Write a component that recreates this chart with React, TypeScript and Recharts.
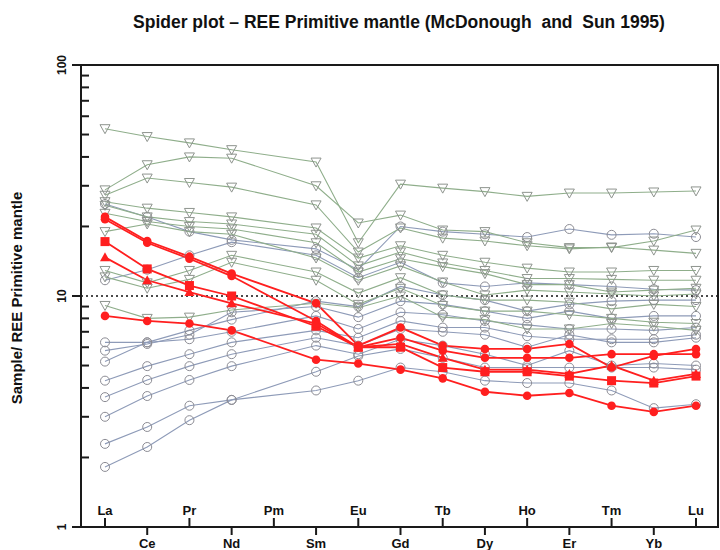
import React from 'react';
import { LineChart, Line, XAxis, YAxis, ReferenceLine } from 'recharts';

const elements = ['La', 'Ce', 'Pr', 'Nd', 'Pm', 'Sm', 'Eu', 'Gd', 'Tb', 'Dy', 'Ho', 'Er', 'Tm', 'Yb', 'Lu'];
const yTicks = [1, 2, 3, 4, 5, 6, 7, 8, 9, 10, 20, 30, 40, 50, 60, 70, 80, 90, 100];
const yMajor = [1, 10, 100];

// green down-triangle samples
const G1 = [53, 49, 46, 43, null, 38, 17, 30.5, 29.3, 28.3, 27, 27.9, 27.9, 28.2, 28.5];
const G2 = [28.8, 37, 40, 39.5, null, 30, 20.7, 22.4, 19.3, 19, 17, 16.2, 16.2, 17.3, 19.3];
const G3 = [27.3, 32.4, 31, 29.6, null, 24.8, 15.5, 19.7, 17.8, 17.3, 16.5, 16, 16.3, 15.8, 15.3];
const G4 = [25.6, 24, 23, 22, null, 19.7, 14.6, 16.5, 15, 14, 13.2, 12.7, 12.7, 12.9, 12.9];
const G5 = [24.7, 22, 21, 20.5, null, 18.5, 13.5, 15.5, 13.9, 12.9, 11.9, 11.9, 11.8, 11.7, 11.7];
const G6 = [22.8, 21, 20, 19.5, null, 17, 12.7, 14.5, 13.4, 12.5, 11.2, 11.2, 10.4, 10.6, 10.8];
const G7 = [19, 20.5, 19, 18.5, null, 14.6, 11.7, 13.5, 11.5, 10.1, 10.6, 10.4, 10.2, 10, 10.2];
const G8 = [12.9, 11.4, 12.9, 15, null, 12.7, 10.3, 12, 10.1, 9.6, 9.6, 9.4, 8.8, 9.2, 9.0];
const G9 = [12.1, 10.8, 11.8, 14, null, 11.7, 9.2, 10.8, 9.1, 8.6, 8.6, 8.3, 8.0, 7.7, 7.6];
const G10 = [9.1, 8.0, 8.1, 8.7, null, 9.3, 8.9, 10, 8.1, 7.9, 7.2, 7.2, 7.6, 7.4, 7.1];

// grey open-circle samples
const C1 = [25, 22, 19, 17.5, null, 16, 13, 20, 19, 18.5, 18, 19.5, 18.4, 18.6, 18];
const C2 = [11.7, 13, 15, 17.1, null, 15, 12, 14, 11.4, 11, 11.4, 11.2, 11, 10.7, 10.6];
const C3 = [6.3, 6.3, 7.1, 7.9, null, 9.5, 9.0, 11, 10.1, 9.6, 8.6, 9.2, 9.5, 9.6, 9.6];
const C4 = [5.8, 6.2, 6.8, 8.5, null, 9.0, 8.1, 9.5, 9.2, 8.6, 8.0, 8.6, 8.0, 8.2, 8.2];
const C5 = [5.2, 6.3, 6.5, 7.0, null, 8.2, 7.2, 8.5, 8.3, 7.8, 7.5, 7.2, 7.2, 7.1, 7.3];
const C6 = [4.3, 4.97, 5.6, 6.3, null, 7.1, 6.6, 7.8, 7.3, 7.3, 6.7, 6.5, 6.5, 6.5, 6.8];
const C7 = [3.65, 4.33, 4.97, 5.6, null, 6.6, 6.1, 7.2, 7.0, 6.8, 6.0, 6.8, 6.3, 6.3, 6.6];
const C8 = [3.0, 3.69, 4.33, 4.97, null, 6.1, 5.6, 6.5, 6.1, 5.6, 5.0, 5.8, 5.0, 5.1, 5.0];
const C9 = [2.29, 2.71, 3.35, 3.55, null, 4.7, 5.5, 5.9, 5.4, 4.9, 4.9, 4.9, 4.9, 4.9, 4.8];
const C10 = [1.82, 2.22, 2.9, 3.55, null, 3.9, 4.3, 4.9, 4.7, 4.3, 4.2, 4.2, 3.9, 3.27, 3.4];

// red samples
const R1 = [22, 17.3, 14.8, 12.5, null, 9.3, 6.1, 7.3, 6.1, 5.9, 5.9, 6.2, 4.9, 5.5, 5.9];
const R2 = [21.5, 17.0, 14.5, 12.2, null, 7.8, 6.0, 6.6, 5.8, 5.4, 5.4, 5.4, 5.6, 5.6, 5.6];
const R3 = [17.2, 13.1, 11.1, 10.0, null, 7.4, 6.0, 6.0, 4.9, 4.7, 4.7, 4.5, 4.3, 4.2, 4.5];
const R4 = [14.7, 11.7, 10.4, 9.3, null, 7.6, 6.0, 6.2, 5.4, 4.8, 4.8, 4.6, 5.0, 4.3, 4.6];
const R5 = [8.2, 7.8, 7.6, 7.1, null, 5.3, 5.1, 4.8, 4.4, 3.85, 3.7, 3.8, 3.35, 3.15, 3.35];

const circleSeries = [
  { key: 'C1', values: C1 }, { key: 'C2', values: C2 }, { key: 'C3', values: C3 },
  { key: 'C4', values: C4 }, { key: 'C5', values: C5 }, { key: 'C6', values: C6 },
  { key: 'C7', values: C7 }, { key: 'C8', values: C8 }, { key: 'C9', values: C9 },
  { key: 'C10', values: C10 },
];
const greenSeries = [
  { key: 'G1', values: G1 }, { key: 'G2', values: G2 }, { key: 'G3', values: G3 },
  { key: 'G4', values: G4 }, { key: 'G5', values: G5 }, { key: 'G6', values: G6 },
  { key: 'G7', values: G7 }, { key: 'G8', values: G8 }, { key: 'G9', values: G9 },
  { key: 'G10', values: G10 },
];
const redSeries = [
  { key: 'R1', values: R1, shape: 'circle' },
  { key: 'R2', values: R2, shape: 'circle' },
  { key: 'R3', values: R3, shape: 'square' },
  { key: 'R4', values: R4, shape: 'triangle' },
  { key: 'R5', values: R5, shape: 'circle' },
];

const allSeries = [...circleSeries, ...greenSeries, ...redSeries];
const data = elements.map((el, i) => {
  const row: any = { el };
  allSeries.forEach((s) => {
    row[s.key] = s.values[i];
  });
  return row;
});

const AXIS = '#1a1a1a';
const GREEN_LINE = '#8fae8b';
const TRI_STROKE = '#8e948e';
const BLUE_LINE = '#8e9bb8';
const CIRC_STROKE = '#8c8c94';
const RED = '#ff1f1f';
const FONT = '"Liberation Sans", Arial, sans-serif';

const valid = (p: any) => p && p.cx != null && p.cy != null && p.value != null && !isNaN(p.cy);

const triDownDot = (p: any) => {
  const k = `t-${p.dataKey}-${p.index}`;
  if (!valid(p)) return <g key={k} />;
  const { cx, cy } = p;
  return (
    <polygon key={k} points={`${cx - 5},${cy - 4} ${cx + 5},${cy - 4} ${cx},${cy + 5}`}
      fill="none" stroke={TRI_STROKE} strokeWidth={1} />
  );
};
const circleDot = (p: any) => {
  const k = `c-${p.dataKey}-${p.index}`;
  if (!valid(p)) return <g key={k} />;
  return <circle key={k} cx={p.cx} cy={p.cy} r={4.5} fill="none" stroke={CIRC_STROKE} strokeWidth={1} />;
};
const redDot = (shape: string) => (p: any) => {
  const k = `r-${p.dataKey}-${p.index}`;
  if (!valid(p)) return <g key={k} />;
  const { cx, cy } = p;
  if (shape === 'square') return <rect key={k} x={cx - 4.5} y={cy - 4.5} width={9} height={9} fill={RED} />;
  if (shape === 'triangle')
    return <polygon key={k} points={`${cx - 5},${cy + 4} ${cx + 5},${cy + 4} ${cx},${cy - 5}`} fill={RED} />;
  return <circle key={k} cx={cx} cy={cy} r={4.3} fill={RED} />;
};

const XTick = (props: any) => {
  const { x, y, payload, index } = props;
  const up = index % 2 === 0;
  return (
    <g>
      <line x1={x} x2={x} y1={y} y2={up ? y - 9 : y + 8} stroke={AXIS} strokeWidth={2} />
      <text x={x} y={up ? y - 12 : y + 21} textAnchor="middle" fontFamily={FONT} fontWeight="bold"
        fontSize={13} fill="#111">
        {payload.value}
      </text>
    </g>
  );
};

const YTick = (props: any) => {
  const { x, y, payload } = props;
  const v = payload.value;
  if (yMajor.includes(v)) {
    const tx = x - 19;
    return (
      <g>
        <line x1={x - 9} x2={x} y1={y} y2={y} stroke={AXIS} strokeWidth={2} />
        <text x={tx} y={y} transform={`rotate(-90 ${tx} ${y})`} textAnchor="middle" dominantBaseline="central"
          fontFamily={FONT} fontWeight="bold" fontSize={12} fill="#111">
          {v}
        </text>
      </g>
    );
  }
  return <line x1={x} x2={x + 8} y1={y} y2={y} stroke={AXIS} strokeWidth={2} />;
};

const YTitle = () => (
  <text x={16} y={298} transform="rotate(-90 16 298)" textAnchor="middle" dominantBaseline="central"
    fontFamily={FONT} fontWeight="bold" fontSize={15} fill="#111">
    Sample/ REE Primitive mantle
  </text>
);

export default function App() {
  return (
    <div style={{ position: 'absolute', left: 0, top: 0, width: 720, height: 550, background: '#fff' }}>
      <div style={{
        position: 'absolute', left: 0, top: 12, width: 798, textAlign: 'center', whiteSpace: 'pre',
        fontFamily: FONT, fontWeight: 'bold', fontSize: 17.5, color: '#111',
      }}>
        {'Spider plot \u2013 REE Primitive mantle (McDonough  and  Sun 1995)'}
      </div>
      <LineChart width={720} height={550} data={data} margin={{ top: 65, right: 2, bottom: 3, left: 61 }}>
        <XAxis dataKey="el" type="category" padding={{ left: 24, right: 22 }} height={20}
          axisLine={{ stroke: AXIS, strokeWidth: 2 }} tickLine={false} tickSize={0} tickMargin={0}
          interval={0} tick={<XTick />} />
        <YAxis type="number" scale="log" domain={[1, 100]} ticks={yTicks} interval={0} width={20}
          allowDataOverflow axisLine={{ stroke: AXIS, strokeWidth: 2 }} tickLine={false} tickSize={0}
          tickMargin={0} tick={<YTick />} label={{ content: () => <YTitle /> }} />
        <ReferenceLine y={100} stroke={AXIS} strokeWidth={2} />
        <ReferenceLine y={10} stroke="#111" strokeWidth={1.5} strokeDasharray="2 3" />
        {circleSeries.map((s) => (
          <Line key={s.key} dataKey={s.key} stroke={BLUE_LINE} strokeWidth={1.1} dot={circleDot}
            connectNulls isAnimationActive={false} activeDot={false} />
        ))}
        {greenSeries.map((s) => (
          <Line key={s.key} dataKey={s.key} stroke={GREEN_LINE} strokeWidth={1.1} dot={triDownDot}
            connectNulls isAnimationActive={false} activeDot={false} />
        ))}
        {redSeries.map((s) => (
          <Line key={s.key} dataKey={s.key} stroke={RED} strokeWidth={1.8} dot={redDot(s.shape)}
            connectNulls isAnimationActive={false} activeDot={false} />
        ))}
      </LineChart>
      <div style={{ position: 'absolute', left: 717, top: 64, width: 2, height: 464, background: AXIS }} />
    </div>
  );
}
